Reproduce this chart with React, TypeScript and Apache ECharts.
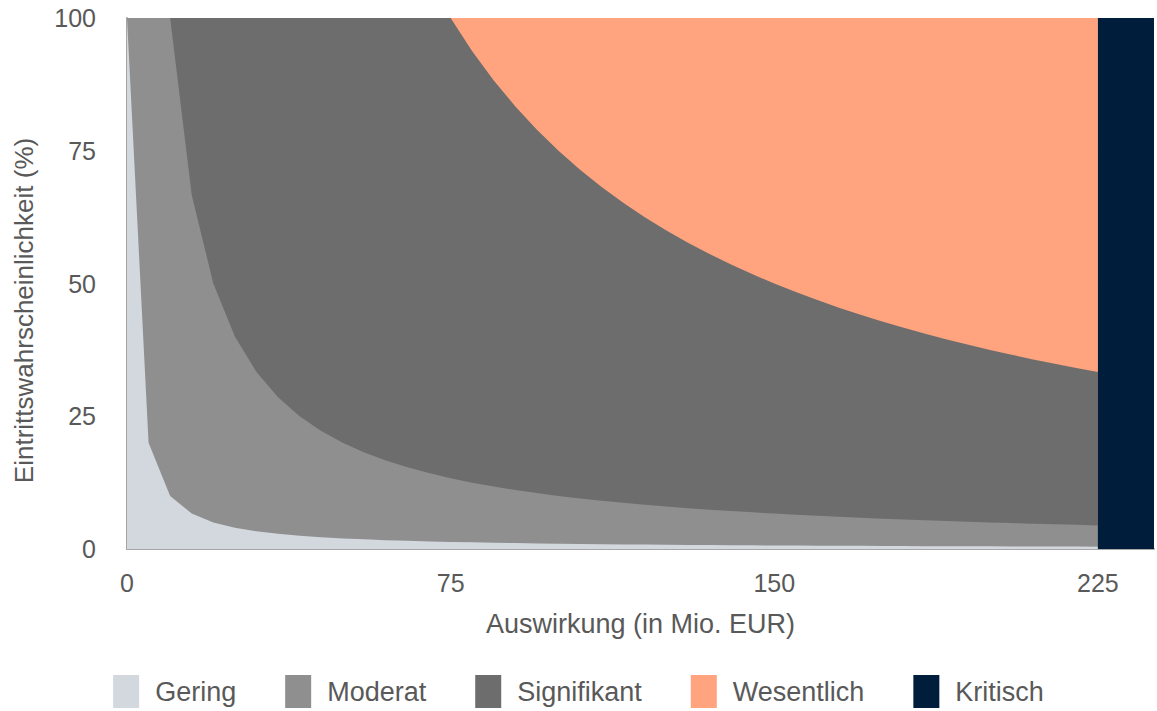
import React, { useEffect, useRef } from "react";
import * as echarts from "echarts";

const seriesNames = ["Gering", "Moderat", "Signifikant", "Wesentlich", "Kritisch"];
const seriesColors = ["#d3d8df", "#8f8f8f", "#6d6d6d", "#ffa47e", "#001e3c"];

const xValues = [
  0, 5, 10, 15, 20, 25, 30, 35, 40, 45, 50, 55, 60, 65, 70, 75, 80, 85, 90, 95,
  100, 105, 110, 115, 120, 125, 130, 135, 140, 145, 150, 155, 160, 165, 170, 175,
  180, 185, 190, 195, 200, 205, 210, 215, 220, 225,
];

const geringValues = [
  100, 20, 10, 6.67, 5, 4, 3.33, 2.86, 2.5, 2.22, 2, 1.82, 1.67, 1.54, 1.43, 1.33,
  1.25, 1.18, 1.11, 1.05, 1, 0.95, 0.91, 0.87, 0.83, 0.8, 0.77, 0.74, 0.71, 0.69,
  0.67, 0.65, 0.63, 0.61, 0.59, 0.57, 0.56, 0.54, 0.53, 0.51, 0.5, 0.49, 0.48,
  0.47, 0.45, 0.44,
];

const moderatValues = [
  100, 100, 100, 66.67, 50, 40, 33.33, 28.57, 25, 22.22, 20, 18.18, 16.67, 15.38,
  14.29, 13.33, 12.5, 11.76, 11.11, 10.53, 10, 9.52, 9.09, 8.7, 8.33, 8, 7.69,
  7.41, 7.14, 6.9, 6.67, 6.45, 6.25, 6.06, 5.88, 5.71, 5.56, 5.41, 5.26, 5.13, 5,
  4.88, 4.76, 4.65, 4.55, 4.44,
];

const signifikantValues = [
  100, 100, 100, 100, 100, 100, 100, 100, 100, 100, 100, 100, 100, 100, 100, 100,
  93.75, 88.24, 83.33, 78.95, 75, 71.43, 68.18, 65.22, 62.5, 60, 57.69, 55.56,
  53.57, 51.72, 50, 48.39, 46.88, 45.45, 44.12, 42.86, 41.67, 40.54, 39.47, 38.46,
  37.5, 36.59, 35.71, 34.88, 34.09, 33.33,
];

const wesentlichX = [0, 225];
const wesentlichValues = [100, 100];

const kritischX = [225, 238];
const kritischValues = [100, 100];

const xTickLabels = [0, 75, 150, 225];
const yTickLabels = [0, 25, 50, 75, 100];

const FONT = "'Liberation Sans', Arial, Helvetica, sans-serif";
const TEXT = "#595959";

function pairs(xs: number[], ys: number[]) {
  return xs.map((x, i) => [x, ys[i]]);
}

function areaSeries(name: string, color: string, data: number[][], z: number) {
  return {
    name,
    type: "line",
    data,
    z,
    color,
    showSymbol: false,
    symbol: "none",
    silent: true,
    lineStyle: { width: 0, color },
    itemStyle: { color },
    areaStyle: { color, opacity: 1 },
  };
}

export default function App() {
  const ref = useRef<HTMLDivElement>(null);

  useEffect(() => {
    if (!ref.current) return;
    const chart = echarts.init(ref.current, null, { renderer: "svg" });
    chart.setOption({
      animation: false,
      backgroundColor: "#ffffff",
      textStyle: { fontFamily: FONT },
      grid: { left: 127, right: 0, top: 18, bottom: 162 },
      legend: {
        data: seriesNames,
        left: "center",
        top: 670,
        itemWidth: 26,
        itemHeight: 33,
        itemGap: 49,
        icon: "rect",
        textStyle: { fontFamily: FONT, fontSize: 27, color: TEXT, padding: [0, 0, 0, 11] },
      },
      xAxis: {
        type: "value",
        min: 0,
        max: 238,
        interval: 75,
        name: "Auswirkung (in Mio. EUR)",
        nameLocation: "middle",
        nameGap: 61,
        nameTextStyle: { fontFamily: FONT, fontSize: 27, color: TEXT },
        axisLine: { show: true, lineStyle: { color: "#a6a6a6", width: 2 } },
        axisTick: { show: false },
        splitLine: { show: false },
        axisLabel: {
          margin: 21,
          fontSize: 25,
          color: TEXT,
          fontFamily: FONT,
          formatter: (v: number) => (xTickLabels.includes(v) ? String(v) : ""),
        },
      },
      yAxis: {
        type: "value",
        min: 0,
        max: 100,
        interval: 25,
        name: "Eintrittswahrscheinlichkeit (%)",
        nameLocation: "middle",
        nameGap: 90,
        nameTextStyle: { fontFamily: FONT, fontSize: 26, color: TEXT, padding: [0, 54, 0, 0] },
        axisLine: { show: true, lineStyle: { color: "#a6a6a6", width: 2 } },
        axisTick: { show: false },
        splitLine: { show: true, lineStyle: { color: "#d0d0d0", width: 1 } },
        axisLabel: {
          margin: 31,
          fontSize: 25,
          color: TEXT,
          fontFamily: FONT,
          formatter: (v: number) => (yTickLabels.includes(v) ? String(v) : ""),
        },
      },
      series: [
        areaSeries(seriesNames[3], seriesColors[3], pairs(wesentlichX, wesentlichValues), 2),
        areaSeries(seriesNames[2], seriesColors[2], pairs(xValues, signifikantValues), 3),
        areaSeries(seriesNames[1], seriesColors[1], pairs(xValues, moderatValues), 4),
        areaSeries(seriesNames[0], seriesColors[0], pairs(xValues, geringValues), 5),
        areaSeries(seriesNames[4], seriesColors[4], pairs(kritischX, kritischValues), 6),
      ],
    });
    return () => chart.dispose();
  }, []);

  return (
    <div
      ref={ref}
      style={{ position: "fixed", left: 0, top: 0, width: 1157, height: 711, background: "#fff" }}
    />
  );
}
